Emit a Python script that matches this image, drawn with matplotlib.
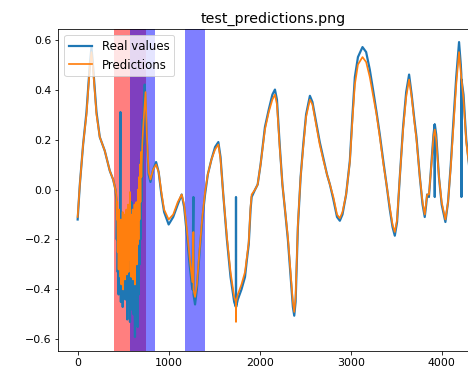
import matplotlib
matplotlib.use("Agg")
import matplotlib.pyplot as plt

# real values (x = sample index)
real_x = [0, 24, 60, 97, 134, 152, 170, 207, 243, 298, 353, 390, 415, 420,
          425, 430, 435, 440, 445, 450, 455, 460, 465, 470, 472, 475, 480, 485,
          490, 495, 500, 505, 510, 515, 520, 525, 530, 535, 540, 545, 550, 555,
          560, 565, 570, 575, 580, 585, 590, 595, 600, 605, 610, 615, 620, 625,
          630, 635, 640, 645, 650, 655, 660, 665, 670, 675, 680, 685, 690, 695,
          700, 705, 710, 715, 720, 728, 737, 760, 780,
          800, 830, 862, 890, 920, 950, 1000, 1050, 1100, 1143, 1170, 1200,
          1230, 1260, 1272, 1273, 1290, 1310, 1340, 1370, 1400, 1430, 1470,
          1510, 1546, 1570, 1600, 1640, 1680, 1720, 1739, 1740, 1741, 1760,
          1800, 1839, 1860, 1880, 1900, 1912, 1950, 1978, 2010, 2058, 2100,
          2140, 2168, 2190, 2220, 2250, 2278, 2310, 2340, 2365, 2380, 2395,
          2420, 2450, 2479, 2510, 2552, 2580, 2620, 2660, 2698, 2740, 2772,
          2810, 2850, 2881, 2910, 2950, 2991, 3020, 3046, 3080, 3130, 3170,
          3210, 3250, 3284, 3320, 3360, 3394, 3430, 3460, 3485, 3510, 3540,
          3576, 3610, 3642, 3670, 3700, 3723, 3760, 3790, 3814, 3830, 3840,
          3860, 3890, 3910, 3923, 3924, 3925, 3940, 3970, 4000, 4041, 4070,
          4100, 4125, 4160, 4191, 4210, 4216, 4217, 4218, 4240, 4270, 4300]
real_y = [-0.12, 0.02, 0.18, 0.31, 0.50, 0.57, 0.49, 0.31, 0.21, 0.155, 0.075, 0.04, 0.0, -0.02,
          -0.04, -0.20, -0.10, -0.33, -0.15, -0.42, -0.12, -0.30, -0.20, 0.31, -0.18, -0.45, -0.22, -0.38,
          -0.14, -0.47, -0.25, -0.36, -0.12, -0.40, -0.20, -0.44, -0.15, -0.32, -0.10, -0.52, -0.20, -0.38,
          -0.08, -0.45, -0.18, -0.53, -0.12, -0.35, -0.05, -0.48, -0.20, -0.40, -0.10, -0.50, -0.22, -0.36,
          -0.59, -0.18, -0.48, -0.12, -0.40, -0.08, -0.55, -0.15, -0.42, -0.05, -0.30, 0.05, -0.20, 0.12,
          -0.05, 0.20, 0.05, 0.28, 0.18, 0.36, 0.42, 0.20, 0.06,
          0.03, 0.08, 0.11, 0.07, -0.02, -0.09, -0.14, -0.11, -0.06, -0.02, -0.07, -0.18,
          -0.30, -0.40, -0.03, -0.42, -0.46, -0.40, -0.25, -0.12, -0.02, 0.06, 0.12,
          0.17, 0.19, 0.13, -0.02, -0.20, -0.35, -0.45, -0.47, -0.03, -0.47, -0.44,
          -0.40, -0.35, -0.28, -0.22, -0.08, -0.03, 0.0, 0.02, 0.10, 0.25, 0.32,
          0.38, 0.40, 0.36, 0.18, 0.02, -0.08, -0.20, -0.35, -0.47, -0.505, -0.45,
          -0.15, 0.05, 0.18, 0.30, 0.375, 0.35, 0.27, 0.19, 0.128, 0.06, 0.02,
          -0.04, -0.11, -0.125, -0.10, -0.02, 0.115, 0.30, 0.45, 0.53, 0.57, 0.55,
          0.48, 0.39, 0.31, 0.22, 0.11, 0.02, -0.08, -0.15, -0.185, -0.13, 0.05,
          0.25, 0.39, 0.46, 0.38, 0.28, 0.21, 0.05, -0.06, -0.11, -0.06, -0.02,
          -0.03, 0.12, 0.22, 0.26, -0.03, 0.26, 0.22, 0.05, -0.06, -0.13, -0.05,
          0.10, 0.25, 0.45, 0.59, 0.50, 0.46, -0.03, 0.44, 0.38, 0.20, 0.10]

# model predictions
pred_x = [0, 24, 60, 97, 134, 152, 170, 207, 243, 298, 353, 390, 415, 420,
          425, 430, 435, 440, 445, 450, 455, 460, 465, 470, 475, 480, 485,
          490, 495, 500, 505, 510, 515, 520, 525, 530, 535, 540, 545, 550, 555,
          560, 565, 570, 575, 580, 585, 590, 595, 600, 605, 610, 615, 620, 625,
          630, 635, 640, 645, 650, 655, 660, 665, 670, 675, 680, 685, 690, 695,
          700, 710, 720, 735, 746, 760, 780,
          800, 830, 862, 890, 920, 950, 1000, 1050, 1100, 1143, 1170, 1200,
          1230, 1260, 1272, 1273, 1290, 1310, 1340, 1370, 1400, 1430, 1470,
          1510, 1546, 1570, 1600, 1640, 1680, 1720, 1739, 1740, 1741, 1760,
          1800, 1839, 1860, 1880, 1900, 1912, 1950, 1978, 2010, 2058, 2100,
          2140, 2168, 2190, 2220, 2250, 2278, 2310, 2340, 2365, 2380, 2395,
          2420, 2450, 2479, 2510, 2552, 2580, 2620, 2660, 2698, 2740, 2772,
          2810, 2850, 2881, 2910, 2950, 2991, 3020, 3046, 3080, 3130, 3170,
          3210, 3250, 3284, 3320, 3360, 3394, 3430, 3460, 3485, 3510, 3540,
          3576, 3610, 3642, 3670, 3700, 3723, 3760, 3790, 3814, 3830, 3840,
          3860, 3890, 3910, 3924, 3940, 3970, 4000, 4041, 4070,
          4100, 4125, 4160, 4191, 4210, 4240, 4270, 4300]
pred_y = [-0.11, 0.02, 0.18, 0.30, 0.49, 0.55, 0.48, 0.30, 0.21, 0.155, 0.075, 0.04, 0.0, -0.01,
          -0.02, -0.12, -0.05, -0.25, -0.10, -0.32, -0.08, -0.28, -0.15, -0.35, -0.12, -0.38, -0.18,
          -0.30, -0.09, -0.40, -0.15, -0.33, -0.10, -0.36, -0.18, -0.28, -0.08, -0.34, -0.14, -0.30, -0.06,
          -0.33, -0.12, -0.28, -0.01, -0.25, -0.10, -0.35, -0.14, -0.30, -0.08, -0.36, -0.16, -0.28, -0.06,
          -0.38, -0.12, -0.26, -0.05, -0.30, -0.10, -0.22, 0.0, -0.20, 0.05, -0.12, 0.10, -0.05, 0.15,
          0.05, 0.18, 0.25, 0.33, 0.39, 0.22, 0.07,
          0.04, 0.08, 0.10, 0.07, -0.01, -0.08, -0.12, -0.10, -0.05, -0.02, -0.06, -0.16,
          -0.27, -0.37, -0.17, -0.40, -0.43, -0.38, -0.24, -0.11, -0.01, 0.06, 0.12,
          0.16, 0.18, 0.12, -0.02, -0.19, -0.33, -0.43, -0.45, -0.53, -0.45, -0.42,
          -0.38, -0.33, -0.27, -0.21, -0.07, -0.02, 0.0, 0.02, 0.10, 0.24, 0.31,
          0.36, 0.38, 0.34, 0.17, 0.02, -0.08, -0.19, -0.33, -0.45, -0.49, -0.43,
          -0.14, 0.05, 0.17, 0.29, 0.36, 0.34, 0.26, 0.18, 0.12, 0.06, 0.02,
          -0.03, -0.10, -0.115, -0.09, -0.02, 0.11, 0.28, 0.42, 0.50, 0.53, 0.51,
          0.45, 0.37, 0.30, 0.21, 0.10, 0.02, -0.07, -0.14, -0.17, -0.12, 0.05,
          0.24, 0.37, 0.44, 0.37, 0.27, 0.20, 0.05, -0.05, -0.10, -0.05, -0.02,
          -0.02, 0.11, 0.21, 0.24, 0.20, 0.05, -0.05, -0.12, -0.05,
          0.09, 0.23, 0.42, 0.55, 0.47, 0.36, 0.19, 0.10]

# highlighted regions (start, end)
red_spans = [(400, 750)]
blue_spans = [(580, 850), (1180, 1400)]


def main():
    plt.rcParams['xtick.labelsize'] = 11
    plt.rcParams['ytick.labelsize'] = 11
    plt.rcParams['legend.fontsize'] = 11.8

    fig = plt.figure(figsize=(6.5, 5.125), dpi=72)
    ax = fig.add_axes([0.1245, 0.0496, 0.919, 0.8716])

    ax.plot(real_x, real_y, color='C0', lw=2.2, label='Real values')
    ax.plot(pred_x, pred_y, color='C1', lw=1.7, label='Predictions')

    for a, b in red_spans:
        ax.axvspan(a, b, color='red', alpha=0.5, lw=0)
    for a, b in blue_spans:
        ax.axvspan(a, b, color='blue', alpha=0.5, lw=0)

    ax.set_xlim(-213, 4513)
    ax.set_ylim(-0.645, 0.642)
    ax.set_title('test_predictions.png', fontsize=14.2)
    ax.legend(loc='upper left')

    fig.savefig('out.png', dpi=72)


if __name__ == "__main__":
    main()
